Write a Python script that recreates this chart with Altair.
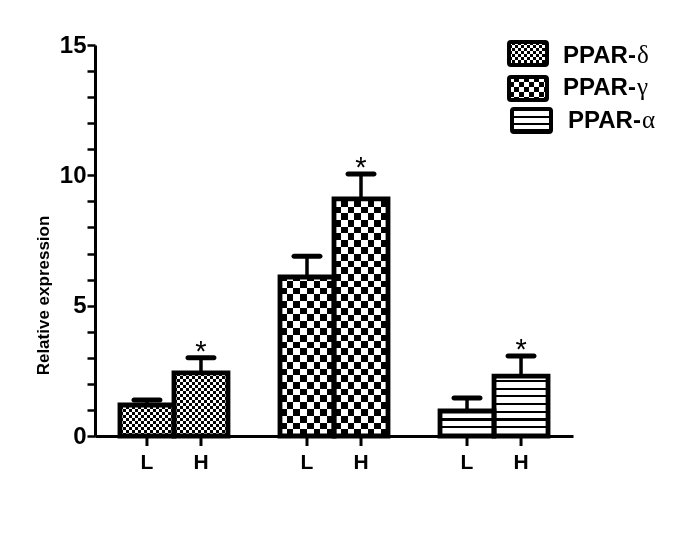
import altair as alt
import pandas as pd

# ---------------- data ----------------
groups = ["PPAR-δ", "PPAR-γ", "PPAR-α"]
levels = ["L", "H"]
group_col = ["PPAR-δ", "PPAR-δ", "PPAR-γ", "PPAR-γ", "PPAR-α", "PPAR-α"]
level_col = ["L", "H", "L", "H", "L", "H"]
mean_vals = [1.19, 2.42, 6.10, 9.10, 0.96, 2.30]
sem_vals = [0.19, 0.58, 0.80, 0.95, 0.50, 0.77]
star_col = [False, True, False, True, False, True]
y_ticks = list(range(0, 16))

df = pd.DataFrame({"group": group_col, "level": level_col,
                   "mean": mean_vals, "sem": sem_vals, "star": star_col})
df["top"] = df["mean"] + df["sem"]

# ---------------- layout ----------------
W, H = 478, 391
YMAX = 15
PX = H / YMAX
PI, PO = 0.325, 0.156
STEP = W / (len(groups) - PI + 2 * PO)
BAR_W = STEP * (1 - PI) / 2
FONT = "Liberation Sans"


def stripe_grad(length, period, on_len, on_col, off_col, vertical=False, from_end=False):
    segs = []
    pos = 0.0
    while pos < length:
        a, b = pos, min(pos + on_len, length)
        segs.append((a, b, on_col))
        a2, b2 = b, min(pos + period, length)
        if b2 > a2:
            segs.append((a2, b2, off_col))
        pos += period
    stops = []
    if from_end:
        segs = [(length - b, length - a, c) for (a, b, c) in segs][::-1]
    for a, b, c in segs:
        stops.append(alt.GradientStop(offset=round(a / length, 5), color=c))
        stops.append(alt.GradientStop(offset=round(b / length, 5), color=c))
    if vertical:
        return alt.LinearGradient(gradient="linear", stops=stops, x1=0, y1=0, x2=0, y2=1)
    return alt.LinearGradient(gradient="linear", stops=stops, x1=0, y1=0, x2=1, y2=0)


x_enc = alt.X("group:N", sort=groups,
              scale=alt.Scale(domain=groups, paddingInner=PI, paddingOuter=PO),
              axis=alt.Axis(labels=False, ticks=False, title=None, domainWidth=3,
                            domainColor="black"))
xo_enc = alt.XOffset("level:N", sort=levels,
                     scale=alt.Scale(domain=levels, paddingInner=0, paddingOuter=0))
y_axis = alt.Axis(values=y_ticks,
                  labelExpr="datum.value % 5 === 0 ? datum.label : ''",
                  title="Relative expression", titleFont=FONT, titleFontSize=17,
                  titleFontWeight="bold", titleColor="black",
                  titleX=-52, titleY=250, titleAngle=270, titleAlign="center",
                  titleBaseline="middle",
                  labelFont=FONT, labelFontSize=24, labelFontWeight="bold",
                  labelColor="black", labelPadding=1,
                  tickSize=8, tickWidth=2.5, tickColor="black",
                  domainWidth=3, domainColor="black", grid=False)
y_scale = alt.Scale(domain=[0, YMAX], nice=False)


def y_enc(field):
    return alt.Y(f"{field}:Q", scale=y_scale, axis=y_axis)


base = alt.Chart(df)
layers = []

checker = {"PPAR-δ": 3.0, "PPAR-γ": 6.75}

# base vertical stripes for checker series
for g, cell in checker.items():
    layers.append(
        base.transform_filter(f"datum.group === '{g}'")
        .mark_bar(fill=stripe_grad(BAR_W, 2 * cell, cell, "black", "white"))
        .encode(x=x_enc, xOffset=xo_enc, y=y_enc("mean"))
    )

# per-bar horizontal layers
for g, l, m in zip(group_col, level_col, mean_vals):
    hpx = m * PX
    filt = f"datum.group === '{g}' && datum.level === '{l}'"
    if g in checker:
        cell = checker[g]
        grad = stripe_grad(hpx, 2 * cell, cell, "white", "black", vertical=True, from_end=True)
        mk = base.transform_filter(filt).mark_bar(fill=grad, blend="difference")
    else:
        grad = stripe_grad(hpx, 7.7, 2.2, "black", "white", vertical=True, from_end=True)
        mk = base.transform_filter(filt).mark_bar(fill=grad)
    layers.append(mk.encode(x=x_enc, xOffset=xo_enc, y=y_enc("mean")))

# outlines
layers.append(
    base.mark_bar(fill=None, fillOpacity=0, stroke="black", strokeWidth=4.8)
    .encode(x=x_enc, xOffset=xo_enc, y=y_enc("mean"))
)
# error stems
layers.append(
    base.mark_rule(color="black", strokeWidth=3.5)
    .encode(x=x_enc, xOffset=xo_enc, y=y_enc("mean"), y2="top:Q")
)
# caps
layers.append(
    base.mark_tick(orient="horizontal", size=31, thickness=5, cornerRadius=2.5,
                   color="black", opacity=1)
    .encode(x=x_enc, xOffset=xo_enc, y=y_enc("top"))
)
# asterisks
layers.append(
    base.transform_filter("datum.star")
    .mark_text(text="*", font=FONT, fontSize=29, baseline="alphabetic", dy=3, color="black")
    .encode(x=x_enc, xOffset=xo_enc, y=y_enc("top"))
)
# x ticks and labels under each bar
layers.append(
    base.mark_rule(color="black", strokeWidth=3)
    .encode(x=x_enc, xOffset=xo_enc, y=alt.value(H + 1), y2=alt.value(H + 10))
)
layers.append(
    base.mark_text(font=FONT, fontSize=21, fontWeight="bold", baseline="alphabetic",
                   color="black")
    .encode(x=x_enc, xOffset=xo_enc, y=alt.value(H + 33), text="level:N")
)

# ---------------- legend ----------------
legend_rows = [
    # name, prefix, greek, box x0, x1, y0, y1, text x, greek x, baseline
    ("PPAR-δ", "PPAR-", "δ", 414, 452, -3, 20, 468, 542, 18),
    ("PPAR-γ", "PPAR-", "γ", 414, 452, 32, 55, 468, 542, 50),
    ("PPAR-α", "PPAR-", "α", 417, 456, 64, 87, 473, 547, 83),
]
ldf = pd.DataFrame({"name": [r[0] for r in legend_rows]})
lbase = alt.Chart(ldf)
for name, pre, gk, x0, x1, y0, y1, tx, gx, by in legend_rows:
    bw, bh = x1 - x0, y1 - y0
    f = lbase.transform_filter(f"datum.name === '{name}'")
    pos = dict(x=alt.value(x0), x2=alt.value(x1), y=alt.value(y0), y2=alt.value(y1))
    if name == "PPAR-δ":
        layers.append(f.mark_rect(fill=stripe_grad(bw, 6, 3, "black", "white")).encode(**pos))
        layers.append(f.mark_rect(fill=stripe_grad(bh, 6, 3, "white", "black", vertical=True),
                                  blend="difference").encode(**pos))
    elif name == "PPAR-γ":
        layers.append(f.mark_rect(fill=stripe_grad(bw, 10, 5, "black", "white")).encode(**pos))
        layers.append(f.mark_rect(fill=stripe_grad(bh, 10, 5, "white", "black", vertical=True),
                                  blend="difference").encode(**pos))
    else:
        layers.append(f.mark_rect(fill=stripe_grad(bh, 6.8, 2.4, "black", "white",
                                                   vertical=True)).encode(**pos))
    layers.append(f.mark_rect(fill=None, fillOpacity=0, stroke="black", strokeWidth=4,
                              cornerRadius=2).encode(**pos))
    layers.append(f.mark_text(text=pre, font=FONT, fontSize=24, fontWeight="bold",
                              align="left", baseline="alphabetic", color="black")
                  .encode(x=alt.value(tx), y=alt.value(by)))
    layers.append(f.mark_text(text=gk, font="Liberation Serif", fontSize=25,
                              align="left", baseline="alphabetic", color="black")
                  .encode(x=alt.value(gx), y=alt.value(by)))

chart = alt.layer(*layers).properties(
    width=W, height=H,
    autosize=alt.AutoSizeParams(type="none"),
    padding={"left": 87, "top": 37, "right": 109, "bottom": 91},
    background="white",
).configure_view(stroke=None)

chart.save("out.html", embed_options={"renderer": "svg", "actions": False})
